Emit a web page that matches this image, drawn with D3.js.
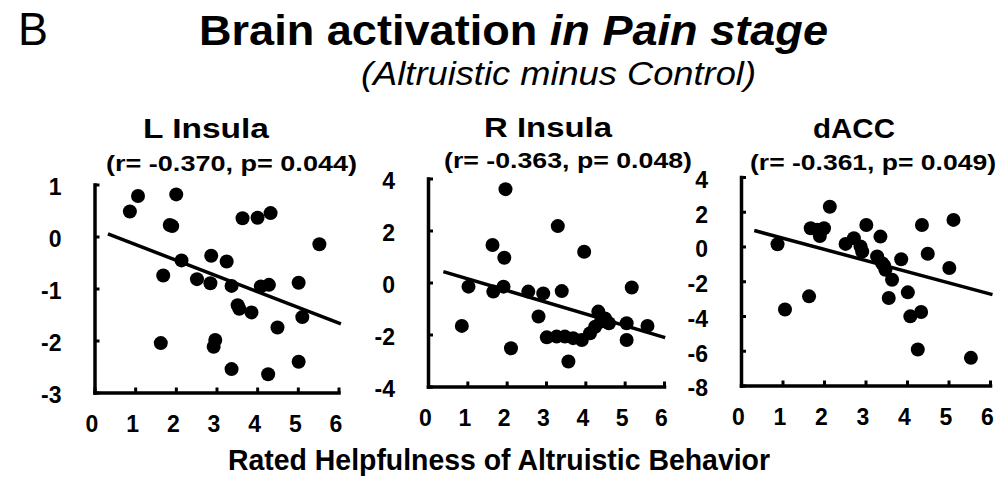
<!DOCTYPE html>
<html><head><meta charset="utf-8">
<script src="https://cdn.jsdelivr.net/npm/d3@7"></script>
<style>
html,body{margin:0;padding:0;background:#fff;}
text{font-family:"Liberation Sans",Arial,Helvetica,sans-serif;fill:#000;}
</style></head>
<body>
<svg id="chart" width="1005" height="487"></svg>
<script>
// ---------- data ----------
const panelTitles = ["L Insula", "R Insula", "dACC"];
const panelStats = ["(r= -0.370, p= 0.044)", "(r= -0.363, p= 0.048)", "(r= -0.361, p= 0.049)"];
const xTicks = [0, 1, 2, 3, 4, 5, 6];
const yTicksL = [1, 0, -1, -2, -3];
const yTicksR = [4, 2, 0, -2, -4];
const yTicksD = [4, 2, 0, -2, -4, -6, -8];

const lInsulaX = [0.87,1.07,2.01,1.85,1.91,2.14,1.69,2.52,2.85,2.87,3.25,3.37,3.52,3.56,3.86,3.64,4.01,4.33,4.09,4.29,4.50,5.02,5.11,5.53,1.63,2.97,2.93,3.37,4.27,5.02];
const lInsulaY = [0.48,0.78,0.81,0.22,0.20,-0.46,-0.75,-0.82,-0.90,-0.37,-0.48,-0.95,-1.32,-1.39,-1.46,0.35,0.36,0.45,-0.96,-0.93,-1.75,-0.89,-1.55,-0.15,-2.05,-1.99,-2.12,-2.55,-2.65,-2.41];
const lInsulaFitX = [0.33, 6.06];
const lInsulaFitY = [0.05, -1.68];

const rInsulaX = [1.97,1.64,1.94,3.30,3.97,5.18,1.03,0.86,1.66,1.92,2.55,2.93,3.40,2.81,2.11,3.02,3.27,3.48,3.69,3.91,4.12,4.25,4.33,4.50,3.57,5.05,5.05,5.58,4.40,4.60];
const rInsulaY = [3.59,1.44,0.95,2.17,1.18,-0.19,-0.16,-1.67,-0.35,-0.16,-0.35,-0.42,-0.33,-1.31,-2.53,-2.11,-2.08,-2.08,-2.14,-2.21,-1.95,-1.70,-1.12,-1.38,-3.04,-1.57,-2.21,-1.67,-1.50,-1.57];
const rInsulaFitX = [0.39, 6.03];
const rInsulaFitY = [0.42, -2.12];

const daccX = [0.88,1.06,1.64,1.68,1.84,2.00,1.90,2.14,2.52,2.72,2.88,3.02,2.92,3.36,3.28,3.40,3.48,3.64,3.56,3.86,4.02,4.08,4.34,4.26,4.36,4.50,5.02,5.12,5.54,3.45];
const daccY = [0.13,-3.63,-2.87,1.05,0.96,1.05,0.60,2.29,0.15,0.48,0.00,1.24,-0.29,0.57,-0.57,-0.96,-1.34,-1.91,-2.96,-0.73,-2.64,-4.02,-3.77,-5.93,1.24,-0.42,-1.24,1.53,-6.41,-1.10];
const daccFitX = [0.32, 6.06];
const daccFitY = [0.92, -2.77];

const xTitle = "Rated Helpfulness of Altruistic Behavior";
const mainTitle = "Brain activation ";
const mainTitleItalic = "in Pain stage";
const subTitle = "(Altruistic minus Control)";
const panelLetter = "B";

// ---------- layout ----------
const panels = [
  {xs: lInsulaX, ys: lInsulaY, fx: lInsulaFitX, fy: lInsulaFitY, yTicks: yTicksL, yDom: [-3, 1],
   xr: [94.5, 338.5], yr: [392.5, 184.5], tX: 143, tLen: 126, tY: 138, sX: 106, sLen: 251, sY: 171},
  {xs: rInsulaX, ys: rInsulaY, fx: rInsulaFitX, fy: rInsulaFitY, yTicks: yTicksR, yDom: [-4, 4],
   xr: [428, 664], yr: [386.5, 178.5], tX: 484, tLen: 128, tY: 137, sX: 444, sLen: 248, sY: 168},
  {xs: daccX, ys: daccY, fx: daccFitX, fy: daccFitY, yTicks: yTicksD, yDom: [-8, 4],
   xr: [741, 990], yr: [385.5, 177], tX: 813, tLen: 82, tY: 138, sX: 750, sLen: 246, sY: 170}
];

const svg = d3.select("#chart");

// header texts
svg.append("text").attr("x", 18).attr("y", 45).attr("font-size", 46)
  .attr("textLength", 30).attr("lengthAdjust", "spacingAndGlyphs").text(panelLetter);

const t = svg.append("text").attr("x", 199).attr("y", 45).attr("font-size", 42).attr("font-weight", "bold")
  .attr("textLength", 629).attr("lengthAdjust", "spacingAndGlyphs");
t.append("tspan").text(mainTitle);
t.append("tspan").attr("font-style", "italic").text(mainTitleItalic);

svg.append("text").attr("x", 361).attr("y", 85).attr("font-size", 33).attr("font-style", "italic")
  .attr("textLength", 395).attr("lengthAdjust", "spacingAndGlyphs").text(subTitle);

svg.append("text").attr("x", 228).attr("y", 470).attr("font-size", 30).attr("font-weight", "bold")
  .attr("textLength", 542).attr("lengthAdjust", "spacingAndGlyphs").text(xTitle);

const fmt = d => String(d);

panels.forEach((p, i) => {
  const x = d3.scaleLinear().domain([0, 6]).range(p.xr);
  const y = d3.scaleLinear().domain(p.yDom).range(p.yr);
  const g = svg.append("g");

  // titles
  g.append("text").attr("x", p.tX).attr("y", p.tY).attr("font-size", 28).attr("font-weight", "bold")
    .attr("textLength", p.tLen).attr("lengthAdjust", "spacingAndGlyphs").text(panelTitles[i]);
  g.append("text").attr("x", p.sX).attr("y", p.sY).attr("font-size", 22).attr("font-weight", "bold")
    .attr("textLength", p.sLen).attr("lengthAdjust", "spacingAndGlyphs").text(panelStats[i]);

  // x axis
  const xa = g.append("g").attr("transform", `translate(0,${p.yr[0]})`)
    .call(d3.axisBottom(x).tickValues(xTicks).tickFormat(fmt).tickSizeInner(-5).tickSizeOuter(0).tickPadding(23));
  // y axis
  const ya = g.append("g").attr("transform", `translate(${p.xr[0]},0)`)
    .call(d3.axisLeft(y).tickValues(p.yTicks).tickFormat(fmt).tickSizeInner(-5).tickSizeOuter(0).tickPadding(33));

  [xa, ya].forEach(a => {
    a.select(".domain").attr("stroke", "#000").attr("stroke-width", 3.5).attr("stroke-linecap", "square");
    a.selectAll(".tick line").attr("stroke", "#000").attr("stroke-width", 3);
    a.selectAll(".tick text").attr("fill", "#000").attr("font-size", 23).attr("font-weight", "bold")
      .attr("font-family", '"Liberation Sans",Arial,sans-serif');
  });
  xa.selectAll(".tick text").attr("dx", -3);
  ya.selectAll(".tick text").attr("dy", "0.45em");

  // points
  g.append("g").selectAll("circle").data(p.xs.map((v, k) => [v, p.ys[k]])).join("circle")
    .attr("cx", d => x(d[0])).attr("cy", d => y(d[1])).attr("r", 7).attr("fill", "#000");

  // fit line
  g.append("line")
    .attr("x1", x(p.fx[0])).attr("y1", y(p.fy[0]))
    .attr("x2", x(p.fx[1])).attr("y2", y(p.fy[1]))
    .attr("stroke", "#000").attr("stroke-width", 3.5);
});
</script>
</body></html>
